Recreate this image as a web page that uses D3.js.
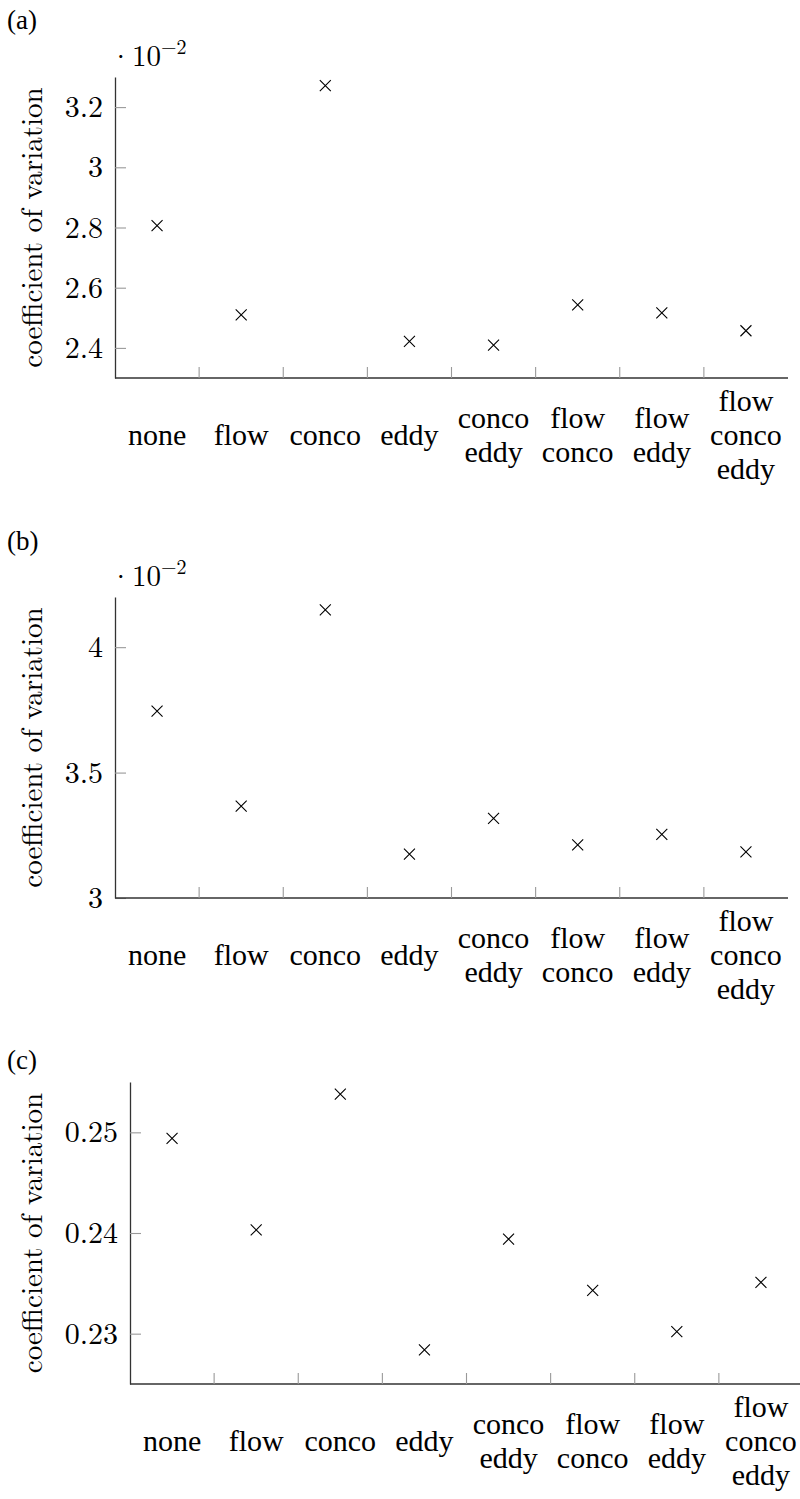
<!DOCTYPE html>
<html>
<head>
<meta charset="utf-8">
<script src="https://cdn.jsdelivr.net/npm/d3@7"></script>
<style>
  html, body { margin: 0; padding: 0; background: #fff; }
  svg { display: block; }
</style>
</head>
<body>
<svg id="chart" width="800" height="1499"></svg>
<script>
// ---- Data ----
const categories = ["none", "flow", "conco", "eddy", "conco eddy", "flow conco", "flow eddy", "flow conco eddy"];

// panel (a): values in units of 10^-2
const valuesA = [2.806, 2.510, 3.271, 2.422, 2.409, 2.543, 2.516, 2.457];
const ticksA = [2.4, 2.6, 2.8, 3.0, 3.2];
const tickLabelsA = ["2.4", "2.6", "2.8", "3", "3.2"];
const domainA = [2.3, 3.3];

// panel (b): values in units of 10^-2
const valuesB = [3.745, 3.366, 4.149, 3.175, 3.317, 3.212, 3.254, 3.184];
const ticksB = [3.0, 3.5, 4.0];
const tickLabelsB = ["3", "3.5", "4"];
const domainB = [3.0, 4.2];

// panel (c)
const valuesC = [0.2494, 0.2403, 0.2538, 0.2284, 0.2394, 0.2343, 0.2302, 0.2351];
const ticksC = [0.23, 0.24, 0.25];
const tickLabelsC = ["0.23", "0.24", "0.25"];
const domainC = [0.225, 0.255];

const panelLabels = ["(a)", "(b)", "(c)"];
const yLabel = "coefficient of variation";

// ---- Drawing ----
const TEXTFONT = '"Liberation Serif", "Times New Roman", serif';
const MATHFONT = '"Latin Modern Roman", "Liberation Serif", serif';
const svg = d3.select("#chart");

const panels = [
  { label: panelLabels[0], values: valuesA, ticks: ticksA, tickLabels: tickLabelsA, domain: domainA, scaleLabel: true,
    left: 115, top: 77, bottom: 378, labelY: 29 },
  { label: panelLabels[1], values: valuesB, ticks: ticksB, tickLabels: tickLabelsB, domain: domainB, scaleLabel: true,
    left: 115, top: 597, bottom: 898, labelY: 550 },
  { label: panelLabels[2], values: valuesC, ticks: ticksC, tickLabels: tickLabelsC, domain: domainC, scaleLabel: false,
    left: 130, top: 1082, bottom: 1384, labelY: 1069 }
];

const plotWidth = 673;
const tickLen = 11;
const lineGap = 34;

function txt(sel, font) { return sel.style("font-family", font).attr("fill", "#000"); }

panels.forEach(p => {
  const g = svg.append("g");
  const x = d3.scaleBand().domain(categories).range([p.left, p.left + plotWidth]).padding(0);
  const y = d3.scaleLinear().domain(p.domain).range([p.bottom, p.top]);

  // panel label
  txt(g.append("text"), TEXTFONT).attr("x", 7).attr("y", p.labelY)
    .attr("font-size", 27).text(p.label);

  // y axis via d3.axisLeft
  const yAxis = d3.axisLeft(y)
    .tickValues(p.ticks)
    .tickFormat((d, i) => p.tickLabels[i])
    .tickSizeInner(-tickLen)
    .tickSizeOuter(0)
    .tickPadding(12);
  const ya = g.append("g").attr("transform", `translate(${p.left},0)`).call(yAxis);
  ya.attr("font-family", null).attr("font-size", null);
  ya.select(".domain").attr("stroke", "#333").attr("stroke-width", 1.3);
  ya.selectAll(".tick line").attr("stroke", "#999").attr("stroke-width", 1.1);
  txt(ya.selectAll(".tick text"), MATHFONT)
    .attr("font-size", 30).attr("dy", "0.32em");

  // x axis line
  g.append("line")
    .attr("x1", x.range()[0]).attr("x2", x.range()[1])
    .attr("y1", p.bottom).attr("y2", p.bottom)
    .attr("stroke", "#333").attr("stroke-width", 1.3);

  // x ticks at category boundaries (interior)
  g.selectAll(".xtick").data(categories.slice(1)).enter().append("line")
    .attr("class", "xtick")
    .attr("x1", d => x(d)).attr("x2", d => x(d))
    .attr("y1", p.bottom).attr("y2", p.bottom - tickLen)
    .attr("stroke", "#999").attr("stroke-width", 1.1);

  // x labels (multi-line)
  const centerBase = p.bottom + 67;
  categories.forEach(c => {
    const lines = c.split(" ");
    const t = txt(g.append("text"), TEXTFONT).attr("text-anchor", "middle").attr("font-size", 30);
    lines.forEach((ln, i) => {
      t.append("tspan")
        .attr("x", x(c) + x.bandwidth() / 2)
        .attr("y", centerBase + (i - (lines.length - 1) / 2) * lineGap)
        .text(ln);
    });
  });

  // y label
  txt(g.append("text"), MATHFONT)
    .attr("transform", `translate(42,${(p.top + p.bottom) / 2}) rotate(-90)`)
    .attr("text-anchor", "middle").attr("font-size", 29)
    .text(yLabel);

  // scale label (·10^-2)
  if (p.scaleLabel) {
    const sx = p.left + 17;
    txt(g.append("text"), MATHFONT).attr("x", sx).attr("y", p.top - 11)
      .attr("font-size", 29).attr("text-anchor", "end").text("·");
    const s = txt(g.append("text"), MATHFONT).attr("x", sx).attr("y", p.top - 11).attr("font-size", 29);
    s.append("tspan").text("10");
    s.append("tspan").attr("font-size", 20).attr("dy", -12).text("−2");
  }

  // markers (×)
  const r = 5.5;
  g.selectAll(".mark").data(p.values).enter().append("path")
    .attr("class", "mark")
    .attr("d", (d, i) => {
      const cx = x(categories[i]) + x.bandwidth() / 2, cy = y(d);
      return `M${cx - r},${cy - r}L${cx + r},${cy + r}M${cx - r},${cy + r}L${cx + r},${cy - r}`;
    })
    .attr("stroke", "#000").attr("stroke-width", 1.1).attr("fill", "none");
});
</script>
</body>
</html>
